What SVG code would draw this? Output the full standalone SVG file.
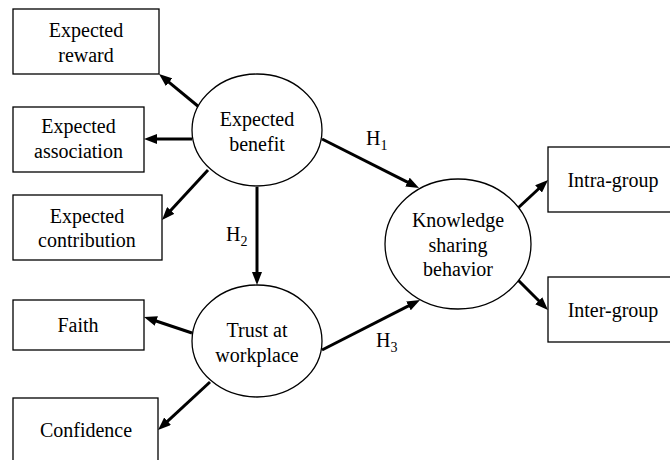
<svg xmlns="http://www.w3.org/2000/svg" width="670" height="460" viewBox="0 0 670 460">
<style>
.box{fill:#fff;stroke:#000;stroke-width:1.3}
.ell{fill:#fff;stroke:#000;stroke-width:1.3}
.t{font-family:"Liberation Serif","Times New Roman",serif;font-size:20px;fill:#000;text-anchor:middle}
.h{font-family:"Liberation Serif","Times New Roman",serif;font-size:20px;fill:#000}
.sub{font-size:14px}
.c{stroke:#000;stroke-width:3;fill:none;marker-end:url(#ah)}
</style>
<defs>
<marker id="ah" markerUnits="userSpaceOnUse" viewBox="0 0 13 10" refX="5" refY="5" markerWidth="13" markerHeight="10" orient="auto">
<path d="M0,0 L13,5 L0,10 z" fill="#000"/>
</marker>
</defs>
<rect width="670" height="460" fill="#fff"/>
<g id="connectors">
<line class="c" x1="199" y1="107" x2="165.2" y2="79.1"/>
<line class="c" x1="192" y1="139" x2="152" y2="139"/>
<line class="c" x1="208" y1="170" x2="167.4" y2="214.1"/>
<line class="c" x1="257" y1="187" x2="257" y2="277"/>
<line class="c" x1="192" y1="333" x2="151.6" y2="319.5"/>
<line class="c" x1="210" y1="382" x2="163.9" y2="424.6"/>
<line class="c" x1="322" y1="139" x2="411.9" y2="184.4"/>
<line class="c" x1="322" y1="350" x2="412.9" y2="303.6"/>
<line class="c" x1="518" y1="208" x2="542.2" y2="185.5"/>
<line class="c" x1="518" y1="280" x2="542.3" y2="304.3"/>
<text class="h" x="366" y="145">H<tspan class="sub" dy="5">1</tspan></text>
<text class="h" x="226" y="241">H<tspan class="sub" dy="5">2</tspan></text>
<text class="h" x="376" y="347">H<tspan class="sub" dy="5">3</tspan></text>
</g>
<g id="expected-reward">
<rect class="box" x="13" y="9" width="146" height="65"/>
<text class="t" x="86" y="37">Expected</text>
<text class="t" x="86" y="62">reward</text>
</g>
<g id="expected-association">
<rect class="box" x="13" y="107" width="131" height="65"/>
<text class="t" x="78.5" y="133">Expected</text>
<text class="t" x="78.5" y="158">association</text>
</g>
<g id="expected-contribution">
<rect class="box" x="13" y="195" width="149" height="65"/>
<text class="t" x="87" y="223">Expected</text>
<text class="t" x="87" y="247">contribution</text>
</g>
<g id="faith">
<rect class="box" x="13" y="300" width="131" height="50"/>
<text class="t" x="78" y="332">Faith</text>
</g>
<g id="confidence">
<rect class="box" x="13" y="398" width="145" height="70"/>
<text class="t" x="86" y="437">Confidence</text>
</g>
<g id="expected-benefit">
<ellipse class="ell" cx="257" cy="130" rx="65" ry="56"/>
<text class="t" x="257" y="126">Expected</text>
<text class="t" x="257" y="151">benefit</text>
</g>
<g id="trust-at-workplace">
<ellipse class="ell" cx="257" cy="341" rx="65" ry="56"/>
<text class="t" x="257" y="337">Trust at</text>
<text class="t" x="257" y="362">workplace</text>
</g>
<g id="knowledge-sharing-behavior">
<ellipse class="ell" cx="458" cy="244" rx="73" ry="65"/>
<text class="t" x="458" y="227">Knowledge</text>
<text class="t" x="458" y="252">sharing</text>
<text class="t" x="458" y="276">behavior</text>
</g>
<g id="intra-group">
<rect class="box" x="548" y="147" width="130" height="65"/>
<text class="t" x="613" y="187">Intra-group</text>
</g>
<g id="inter-group">
<rect class="box" x="548" y="277" width="130" height="65"/>
<text class="t" x="613" y="317">Inter-group</text>
</g>
</svg>
